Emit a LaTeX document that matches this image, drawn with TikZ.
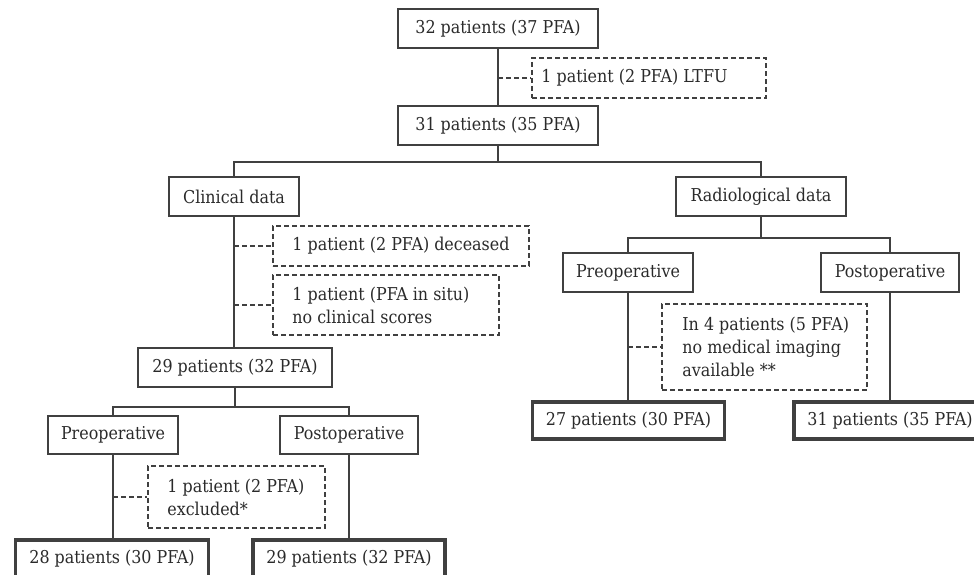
\documentclass[tikz,border=0pt]{standalone}
\usepackage{fontspec}
\setmainfont{DejaVu Serif Condensed}
\definecolor{ln}{HTML}{404040}
\definecolor{txt}{HTML}{2A2A2A}
\begin{document}
\begin{tikzpicture}[x=1pt,y=-1pt,
  every node/.style={font=\fontsize{17.7}{23}\selectfont, text=txt},
  box/.style={draw=ln, line width=1.7pt, inner sep=0pt},
  thickbox/.style={box, line width=3.2pt},
  dbox/.style={draw=ln, line width=1.6pt, dash pattern=on 5pt off 3pt, inner sep=0pt},
  lbl/.style={anchor=west, align=left, inner sep=0pt},
  conn/.style={draw=ln, line width=1.7pt},
  dconn/.style={conn, line width=1.6pt, dash pattern=on 5pt off 3pt}]
\useasboundingbox (0,0) rectangle (974,575);
\clip (0,0) rectangle (974,575);

% top
\node[box, minimum width=200pt, minimum height=39pt] (A) at (498,28.5) {32 patients (37 PFA)};
\node[dbox, minimum width=234pt, minimum height=40pt] (L) at (649,78) {};
\node[lbl] at ([xshift=10pt]L.west) {1 patient (2 PFA) LTFU};
\node[box, minimum width=200pt, minimum height=39pt] (B) at (498,125.5) {31 patients (35 PFA)};
\coordinate (h1) at (0,162);

% clinical branch
\node[box, minimum width=130pt, minimum height=39pt] (Clin) at (234,196.5) {Clinical data};
\node[dbox, minimum width=256pt, minimum height=40pt] (Dec) at (401,246) {};
\node[lbl] at ([xshift=20pt]Dec.west) {1 patient (2 PFA) deceased};
\node[dbox, minimum width=226pt, minimum height=60pt] (Sit) at (386,305) {};
\node[lbl] at ([xshift=20pt]Sit.west) {1 patient (PFA in situ)\\no clinical scores};
\node[box, minimum width=194pt, minimum height=39pt] (C29) at (235,367.5) {29 patients (32 PFA)};
\coordinate (h2) at (0,407);
\node[box, minimum width=130pt, minimum height=38pt] (PreL) at (113,435) {Preoperative};
\node[box, minimum width=138pt, minimum height=38pt] (PostL) at (349,435) {Postoperative};
\node[dbox, minimum width=177pt, minimum height=62pt] (Exc) at (236.5,497) {};
\node[lbl] at ([xshift=20pt]Exc.west) {1 patient (2 PFA)\\excluded*};
\node[thickbox, minimum width=193pt, minimum height=37pt] (L28) at (112,558.5) {28 patients (30 PFA)};
\node[thickbox, minimum width=192pt, minimum height=37pt] (L29) at (349,558.5) {29 patients (32 PFA)};

% radiological branch
\node[box, minimum width=170pt, minimum height=39pt] (Rad) at (761,196.5) {Radiological data};
\coordinate (h3) at (0,238);
\node[box, minimum width=130pt, minimum height=39pt] (PreR) at (628,272.5) {Preoperative};
\node[box, minimum width=138pt, minimum height=39pt] (PostR) at (890,272.5) {Postoperative};
\node[dbox, minimum width=205pt, minimum height=86pt] (In4) at (764.5,347) {};
\node[lbl] at ([xshift=21pt]In4.west) {In 4 patients (5 PFA)\\no medical imaging\\available **};
\node[thickbox, minimum width=192pt, minimum height=37pt] (R27) at (628.5,420.5) {27 patients (30 PFA)};
\node[thickbox, minimum width=192pt, minimum height=37pt] (R31) at (890,420.5) {31 patients (35 PFA)};

% connectors
\draw[conn] (A.south) -- (A.south |- B.north);
\draw[dconn] (A.south |- L.west) -- (L.west);
\draw[conn] (B.south) -- (B.south |- h1);
\draw[conn] (Clin.north) -- (Clin.north |- h1) -- (Rad.north |- h1) -- (Rad.north);

\draw[conn] (Clin.south) -- (Clin.south |- C29.north);
\draw[dconn] (Clin.south |- Dec.west) -- (Dec.west);
\draw[dconn] (Clin.south |- Sit.west) -- (Sit.west);
\draw[conn] (C29.south) -- (C29.south |- h2);
\draw[conn] (PreL.north) -- (PreL.north |- h2) -- (PostL.north |- h2) -- (PostL.north);
\draw[conn] (PreL.south) -- (PreL.south |- L28.north);
\draw[dconn] (PreL.south |- Exc.west) -- (Exc.west);
\draw[conn] (PostL.south) -- (PostL.south |- L29.north);

\draw[conn] (Rad.south) -- (Rad.south |- h3);
\draw[conn] (PreR.north) -- (PreR.north |- h3) -- (PostR.north |- h3) -- (PostR.north);
\draw[conn] (PreR.south) -- (PreR.south |- R27.north);
\draw[dconn] (PreR.south |- In4.west) -- (In4.west);
\draw[conn] (PostR.south) -- (PostR.south |- R31.north);
\end{tikzpicture}
\end{document}
